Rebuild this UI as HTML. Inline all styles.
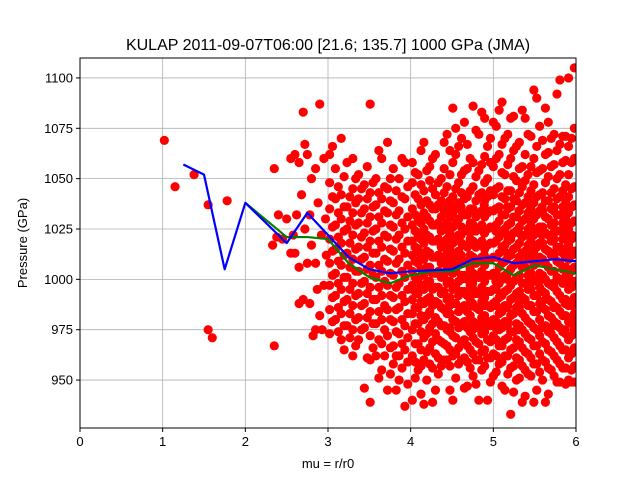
<!DOCTYPE html>
<html><head><meta charset="utf-8">
<style>
html,body{margin:0;padding:0;background:#fff;}
svg{display:block;font-family:"Liberation Sans","DejaVu Sans",sans-serif;}
</style></head>
<body>
<svg id="chart" width="640" height="480" viewBox="0 0 640 480" xmlns="http://www.w3.org/2000/svg">
<defs><clipPath id="pc"><rect x="80" y="58" width="496" height="370"/></clipPath></defs>
<rect width="640" height="480" fill="#fff"/>
<text x="328" y="50" text-anchor="middle" font-size="16" fill="#000">KULAP 2011-09-07T06:00 [21.6; 135.7] 1000 GPa (JMA)</text>
<g id="grid"></g>
<g id="scatter" clip-path="url(#pc)"></g>
<g id="lines" clip-path="url(#pc)"></g>
<rect x="80" y="58" width="496" height="370" fill="none" stroke="#000" stroke-width="1"/>
<g id="axes"></g>
<text x="328" y="468" text-anchor="middle" font-size="13">mu = r/r0</text>
<text transform="translate(27,243) rotate(-90)" text-anchor="middle" font-size="13">Pressure (GPa)</text>
</svg>
<script>
const xTicks=[0,1,2,3,4,5,6];
const yTicks=[950,975,1000,1025,1050,1075,1100];
const blueX=[1.25,1.5,1.75,2,2.5,2.75,3,3.25,3.5,3.75,4,4.5,4.75,5,5.25,5.5,5.75,6];
const blueY=[1057,1052,1005,1038,1018,1033,1022,1011,1005,1003,1004,1005,1010,1011,1008,1009,1010,1009];
const greenX=[2,2.5,2.75,3,3.25,3.5,3.75,4,4.25,4.5,4.75,5,5.25,5.5,5.75,6];
const greenY=[1038,1021,1021,1020,1008,1001,998,1002,1004,1004,1008,1008,1002,1007,1005,1003];
const colX=[3.02,3.09,3.16,3.23,3.30,3.37,3.44,3.51,3.58,3.65,3.72,3.79,3.86,3.93,
4.02,4.09,4.16,4.23,4.30,4.37,4.44,4.51,4.58,4.65,4.72,4.79,4.86,4.93,5.00,5.07,5.14,5.21,5.28,5.35,5.42,5.49,5.56,5.63,5.70,5.77,5.84,5.91,5.98,
4.47,4.61,4.75,4.89,5.03,5.17,5.31,5.45,5.59,5.73,5.87,5.95,
3.055,3.125,3.195,3.265,3.335,3.405,3.475,3.545,3.615,3.685,3.755,3.825,3.895,3.965,
4.055,4.125,4.195,4.265,4.335,4.405,4.475,4.545,4.615,4.685,4.755,4.825,4.895,4.965,5.035,5.105,5.175,5.245,5.315,5.385,5.455,5.525,5.595,5.665,5.735,5.805,5.875,5.945,6.0];
const colY=[
[973,985,997,1008,1020,1035,1048,1062],
[980,992,1003,1015,1027,1040,1055],
[970,983,995,1007,1018,1030,1042,1070],
[977,990,1001,1013,1025,1036,1058],
[962,975,987,998,1010,1022,1033,1045,1060],
[970,981,993,1004,1016,1028,1040,1052],
[946,976,988,999,1011,1023,1035,1047],
[939,960,972,984,996,1007,1019,1031,1043,1087],
[962,978,990,1001,1013,1025,1037,1050],
[955,968,980,992,1004,1016,1028,1040,1060],
[945,972,985,997,1009,1021,1033,1045,1068],
[958,967,979,991,1002,1014,1026,1038,1055],
[950,962,973,986,998,1010,1022,1034,1050],
[937,965,977,989,1001,1013,1025,1040,1058],
[940,962,975,983,990,997,1004,1012,1019,1027,1035,1048,1058],
[955,968,978,986,993,1000,1008,1015,1022,1030,1040,1052],
[938,960,971,980,988,995,1002,1010,1018,1025,1033,1044,1068],
[958,966,976,984,991,999,1006,1013,1021,1029,1037,1049,1056],
[945,963,973,981,989,996,1003,1011,1019,1027,1035,1042,1062],
[957,969,977,986,993,1001,1008,1016,1024,1031,1039,1050],
[960,967,975,983,990,998,1005,1013,1020,1028,1036,1046,1072],
[940,962,972,980,988,995,1003,1010,1018,1026,1033,1041,1058,1085],
[958,966,976,984,992,999,1007,1014,1022,1030,1038,1048,1066],
[946,961,970,979,987,994,1002,1009,1017,1025,1032,1040,1054,1078],
[956,965,974,982,990,997,1005,1012,1020,1028,1035,1044,1060],
[948,960,969,978,986,993,1001,1008,1016,1024,1031,1039,1051,1074],
[955,964,973,981,989,996,1004,1011,1019,1027,1034,1043,1057,1083],
[940,961,970,979,987,994,1002,1010,1017,1025,1033,1041,1050,1066],
[952,963,972,980,988,995,1003,1011,1018,1026,1034,1042,1056,1078],
[958,967,975,983,991,998,1006,1013,1021,1029,1036,1046,1062,1084],
[945,962,970,979,987,994,1002,1009,1017,1025,1032,1040,1052,1070],
[933,956,965,974,982,990,997,1005,1012,1020,1028,1036,1044,1060,1080],
[950,961,970,978,986,993,1001,1008,1016,1024,1031,1039,1049,1066],
[939,957,966,975,983,991,998,1006,1013,1021,1029,1037,1046,1056,1084],
[953,963,971,979,987,995,1002,1010,1017,1025,1033,1041,1052,1072],
[939,958,967,976,984,992,999,1007,1014,1022,1030,1038,1047,1060,1094],
[954,963,972,980,988,996,1003,1011,1018,1026,1034,1042,1054,1076],
[939,959,968,977,985,993,1000,1008,1015,1023,1031,1039,1048,1062,1085],
[955,964,973,981,989,997,1004,1012,1019,1027,1035,1043,1056,1070],
[949,960,969,978,986,994,1001,1009,1016,1024,1032,1040,1050,1064,1092],
[956,965,974,982,990,998,1005,1013,1020,1028,1036,1044,1058,1071],
[950,961,970,979,987,995,1002,1010,1017,1025,1033,1041,1052,1066,1100],
[949,957,966,975,983,991,999,1006,1014,1021,1029,1037,1046,1060,1075,1105],
[976,987,999,1011,1023,1035],
[977,986,1000,1012,1022,1036],
[975,988,998,1010,1024,1034],
[978,987,1001,1012,1023,1037],
[976,989,999,1011,1024,1035],
[977,986,1000,1013,1022,1036],
[975,988,1001,1011,1023,1034],
[978,987,999,1012,1024,1035],
[976,989,1000,1010,1022,1036],
[977,986,998,1013,1023,1034],
[975,988,1001,1011,1024,1035],
[978,987,999,1012,1022,1036],
[979,991,1002,1014,1026,1041,1066],
[974,986,998,1009,1021,1033,1046],
[965,977,989,1001,1012,1024,1036,1051],
[971,983,995,1006,1018,1029,1041],
[967,980,992,1004,1015,1027,1038,1050],
[975,987,998,1010,1021,1033,1045],
[961,981,993,1005,1016,1028,1040,1056],
[966,978,990,1002,1013,1024,1036,1048],
[951,970,984,996,1007,1019,1031,1043,1064],
[962,975,987,999,1010,1022,1034,1046],
[953,966,980,992,1003,1015,1027,1039,1050],
[945,962,974,985,996,1008,1020,1032,1044],
[956,968,980,992,1004,1016,1028,1041,1060],
[948,959,971,983,995,1007,1019,1031,1046],
[951,959,968,978,986,994,1001,1009,1016,1024,1032,1042,1053],
[943,957,965,974,982,989,997,1005,1012,1020,1028,1037,1047,1064],
[950,964,973,982,990,998,1006,1014,1022,1031,1039,1054],
[939,956,969,978,987,995,1003,1011,1019,1027,1035,1045,1060],
[953,961,970,979,988,996,1004,1012,1020,1028,1037,1048],
[960,968,977,985,994,1002,1010,1018,1026,1034,1043,1055,1068],
[945,957,965,974,983,991,999,1007,1015,1023,1031,1039,1052,1064],
[951,963,971,979,988,996,1004,1012,1020,1028,1036,1045,1062,1075],
[960,969,978,986,994,1002,1010,1018,1026,1034,1043,1052,1070],
[947,959,967,976,984,992,1000,1008,1016,1024,1032,1041,1055,1067],
[952,963,971,979,987,995,1003,1011,1019,1027,1035,1046,1058,1086],
[940,960,968,976,985,993,1001,1009,1017,1025,1033,1042,1054,1072],
[957,965,974,982,991,999,1007,1015,1023,1031,1039,1048,1061,1080],
[949,961,969,977,986,994,1002,1010,1018,1026,1034,1044,1058,1070],
[954,962,970,979,987,995,1003,1011,1019,1027,1035,1045,1060,1076],
[947,959,967,976,984,992,1000,1008,1016,1024,1032,1041,1053,1067,1088],
[953,962,971,979,987,995,1003,1011,1019,1027,1035,1044,1057,1072],
[944,957,966,974,983,991,999,1007,1015,1023,1031,1040,1051,1064,1081],
[951,960,969,977,986,994,1002,1010,1018,1026,1034,1043,1055,1068],
[942,955,964,973,981,990,998,1006,1014,1022,1030,1038,1049,1062,1080],
[952,961,970,978,987,995,1003,1011,1019,1027,1035,1044,1056,1071],
[945,958,967,975,984,992,1000,1008,1016,1024,1032,1041,1053,1066,1090],
[950,960,969,977,986,994,1002,1010,1018,1026,1034,1043,1055,1069],
[943,956,965,974,982,990,998,1006,1014,1022,1030,1039,1051,1063,1078],
[952,962,971,979,987,996,1004,1012,1020,1028,1036,1045,1057,1072],
[949,958,967,976,984,992,1000,1008,1016,1024,1032,1041,1052,1067,1099],
[948,956,965,973,982,990,998,1006,1014,1022,1030,1038,1047,1059,1071],
[949,955,963,972,980,988,996,1004,1012,1020,1028,1036,1045,1058,1070]];
const extraX=[2.55,2.6,2.65,2.7,2.72,2.75,2.8,2.85,2.9,2.95,2.62,2.68,2.78,2.88,2.6,2.65,2.75,2.8,2.85,2.92,2.98,2.7,2.78,2.85,2.9,2.95,2.65,2.82,2.58,2.72,2.87,2.97,2.93,2.55,
1.02,1.15,1.38,1.55,1.55,1.6,1.78,2.35,2.33,2.38,2.4,2.35,2.5,2.45];
const extraY=[1060,1062,1058,1083,1067,1062,1050,1055,1087,1060,1032,1042,1032,1038,1013,1006,1008,1017,1008,1022,1012,990,988,975,982,997,988,972,1022,1025,995,1030,975,1013,
1069,1046,1052,1037,975,971,1039,1055,1017,1021,1032,967,1030,1020];

const NS='http://www.w3.org/2000/svg';
const X0=80,X1=576,Y0=58,Y1=428,XMIN=0,XMAX=6,YMIN=926.2,YMAX=1109.9;
function sx(v){return X0+(v-XMIN)/(XMAX-XMIN)*(X1-X0);}
function sy(v){return Y1-(v-YMIN)/(YMAX-YMIN)*(Y1-Y0);}
function mk(t,a){const e=document.createElementNS(NS,t);for(const k in a)e.setAttribute(k,a[k]);return e;}
const grid=document.getElementById('grid'),axes=document.getElementById('axes'),sc=document.getElementById('scatter'),ln=document.getElementById('lines');
xTicks.forEach(t=>{
  const g=mk('line',{x1:sx(t),x2:sx(t),y1:Y0,y2:Y1,stroke:'#b0b0b0','stroke-width':0.8});
  
  
  grid.appendChild(g);
  const tk=mk('line',{x1:sx(t),x2:sx(t),y1:Y1,y2:Y1+4,stroke:'#000'});
  
  
  axes.appendChild(tk);
  const tx=mk('text',{x:sx(t),y:Y1+18,'text-anchor':'middle','font-size':13});
  
  
  tx.textContent=t;axes.appendChild(tx);
});
yTicks.forEach(t=>{
  const g=mk('line',{x1:X0,x2:X1,y1:sy(t),y2:sy(t),stroke:'#b0b0b0','stroke-width':0.8});
  
  
  grid.appendChild(g);
  const tk=mk('line',{x1:X0-4,x2:X0,y1:sy(t),y2:sy(t),stroke:'#000'});
  
  
  axes.appendChild(tk);
  const tx=mk('text',{x:X0-7,y:sy(t)+4.5,'text-anchor':'end','font-size':13});
  
  
  tx.textContent=t;axes.appendChild(tx);
});
function dot(x,y){
  const c=mk('circle',{cx:sx(x),cy:sy(y),r:4.6,fill:'#ff0000'});
  
  
  sc.appendChild(c);
}
colX.forEach((x,i)=>(colY[i]||[]).forEach(y=>dot(x,y)));
extraX.forEach((x,i)=>dot(x,extraY[i]));
function line(xs,ys,color,name){
  const p=mk('polyline',{points:xs.map((x,i)=>sx(x)+','+sy(ys[i])).join(' '),fill:'none',stroke:color,'stroke-width':2.2,'stroke-linejoin':'round'});
  
  
  ln.appendChild(p);
}
line(greenX,greenY,'#008000','green-line');
line(blueX,blueY,'#0000ff','blue-line');
</script>
</body></html>
